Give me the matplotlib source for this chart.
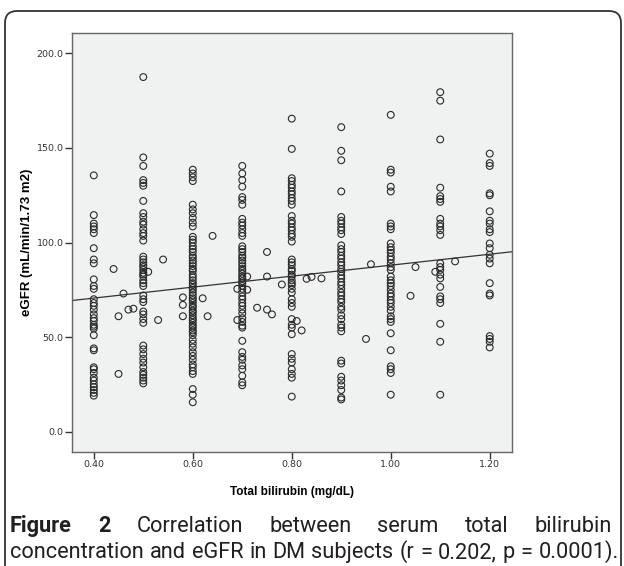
import numpy as np
import matplotlib.pyplot as plt
from matplotlib.patches import FancyBboxPatch

# eGFR values, one list per bilirubin column (mg/dL)
bili_levels = [0.40, 0.50, 0.60, 0.70, 0.80, 0.90, 1.00, 1.10, 1.20]
egfr_040 = [135.5, 114.5, 110, 108.5, 107, 105, 97, 91, 89, 80.5, 77, 75.5, 70, 68, 66.5, 64.5,
            62, 60, 58.5, 56.5, 55.5, 54.5, 51, 44, 43, 34, 33, 31, 28.5, 27, 25, 23.5, 22, 20.5, 19]
egfr_050 = [187.5, 145, 140.5, 133, 131.5, 130, 122, 115.5, 113.5, 111, 109.5, 107, 105, 103.5, 101,
            92.5, 91, 89.5, 88, 87, 85.5, 84, 83, 82, 80, 78.5, 77, 72, 70, 68.5, 63.5, 62, 59.5, 57.5,
            45.5, 43.5, 41, 38.5, 36.5, 34, 31.5, 30, 28.5, 27, 25.5]
egfr_060 = [138.5, 136.5, 134.5, 132.5, 120, 117.5, 115.5, 113, 110.5, 108.5, 103, 101.5, 100, 98,
            96.5, 95, 93, 92, 90.5, 89, 87.5, 86, 85, 83, 81.5, 80, 78.5, 77.5, 76, 75, 73.5, 72, 70.5,
            69.5, 68, 66.5, 65.5, 64, 63, 61.5, 60, 59, 57.5, 56, 55, 53.5, 52.5, 51, 48.5, 46.5, 44.5,
            42, 40, 38, 35.5, 34, 32, 30.5, 22.5, 19.5, 15.5]
egfr_070 = [140.5, 136.5, 133, 129.5, 124, 122.5, 120, 112.5, 110.5, 109, 107, 105, 103.5, 98, 96.5,
            95, 93, 92, 90.5, 89, 87.5, 86, 85, 83.5, 82, 81, 79.5, 78.5, 77, 75.5, 73.5, 71.5, 70, 68,
            66.5, 64.5, 62.5, 60, 58, 56, 55, 48, 42, 39.5, 38, 35, 33, 29.5, 26, 24.5]
egfr_080 = [165.5, 149.5, 134, 132.5, 130.5, 129, 127, 125.5, 123.5, 122, 120, 114, 111.5, 110, 108,
            106.5, 104.5, 103, 100.5, 91, 89.5, 88, 86, 85, 83, 82, 80, 78.5, 77.5, 75.5, 73.5, 70, 68,
            66, 59.5, 56.5, 55, 51.5, 41, 38.5, 36.5, 33, 30.5, 28.5, 18.5]
egfr_090 = [161, 148.5, 143.5, 127, 113.5, 111.5, 110, 108, 106.5, 104.5, 98.5, 96.5, 95, 93, 91.5,
            89.5, 88, 86, 84.5, 82.5, 81, 79, 77.5, 75.5, 73.5, 72, 70, 68.5, 66, 64.5, 61.5, 59.5,
            56.5, 55, 53, 37.5, 36, 29, 27, 24.5, 22, 18, 17]
egfr_100 = [167.5, 138.5, 137, 129.5, 127, 110, 108.5, 107, 99.5, 97.5, 96, 94.5, 92.5, 91, 89, 87,
            85.5, 82, 80, 78.5, 77, 75, 73, 71.5, 69.5, 68, 66, 64, 61, 59.5, 58, 52, 43, 34.5, 33, 31,
            19.5]
egfr_110 = [179.5, 175, 154.5, 129, 124.5, 123, 121.5, 112.5, 110, 108.5, 106.5, 104, 89, 87, 85.5,
            83, 81, 76.5, 71.5, 70, 68, 57, 47.5, 19.5]
egfr_120 = [147, 142, 140.5, 126, 125, 116.5, 111.5, 110, 107, 105.5, 99.5, 97, 93.5, 91.5, 89, 78.5,
            73, 72, 50.5, 49, 47.5, 44.5]
columns = [egfr_040, egfr_050, egfr_060, egfr_070, egfr_080, egfr_090, egfr_100, egfr_110, egfr_120]

# subjects with bilirubin values between the columns
odd_bili = [0.44, 0.45, 0.45, 0.46, 0.47, 0.48, 0.51, 0.53, 0.54, 0.58, 0.58, 0.58, 0.62, 0.63, 0.64,
            0.69, 0.69, 0.71, 0.71, 0.73, 0.75, 0.75, 0.75, 0.76, 0.78, 0.81, 0.82, 0.83, 0.84, 0.86,
            0.95, 0.96, 1.04, 1.05, 1.09, 1.13]
odd_egfr = [86, 61, 30.5, 73, 64.5, 65, 84.5, 59, 91, 71, 67, 61, 70.5, 61, 103.5,
            75.5, 59, 82, 75, 65.5, 95, 82, 64.5, 62, 77.8, 58.5, 53.5, 80.8, 81.8, 81,
            49, 88.5, 71.8, 87, 84.5, 90]

# fit line
fit_intercept = 59.0
fit_slope = 29.0

caption1 = ['Figure', '2', 'Correlation', 'between', 'serum', 'total', 'bilirubin']
caption2 = 'concentration and eGFR in DM subjects (r = 0.202, p = 0.0001).'

x = np.concatenate([[lv] * len(c) for lv, c in zip(bili_levels, columns)] + [odd_bili])
y = np.concatenate(columns + [odd_egfr])

fig = plt.figure(figsize=(6.24, 5.66), dpi=100)
ax = fig.add_axes([0.1154, 0.2014, 0.7051, 0.7403])
ax.set_facecolor('#f0f1f1')

ax.scatter(x, y, s=24, facecolors='none', edgecolors='#2a2a2a', linewidths=0.8, zorder=3)

ax.set_xlim(0.356, 1.245)
ax.set_ylim(-10.8, 210.8)
xs = np.array(ax.get_xlim())
ax.plot(xs, fit_intercept + fit_slope * xs, color='#333333', lw=0.9, zorder=2)

ax.set_xticks([0.4, 0.6, 0.8, 1.0, 1.2])
ax.set_xticklabels(['%.2f' % v for v in [0.4, 0.6, 0.8, 1.0, 1.2]])
ax.set_yticks([0, 50, 100, 150, 200])
ax.set_yticklabels(['%.1f' % v for v in [0, 50, 100, 150, 200]])
ax.tick_params(direction='out', length=5, width=1, color='#333333', labelsize=6.8,
               labelcolor='#333333', pad=1)
for s in ax.spines.values():
    s.set_color('#666666')
    s.set_linewidth(1.0)

ax.set_xlabel('Total bilirubin (mg/dL)', fontsize=8.5, fontweight='bold',
              family='Liberation Sans', labelpad=12)
ax.set_ylabel('eGFR (mL/min/1.73 m2)', fontsize=9.5, fontweight='bold',
              family='Liberation Sans', labelpad=3)

# rounded frame around figure + caption
frame = FancyBboxPatch((0.05, -0.5), 6.16, 6.05, boxstyle='round,pad=0,rounding_size=0.12',
                       transform=fig.dpi_scale_trans, fill=False, edgecolor='#333333', lw=1.3)
fig.patches.append(frame)

cap_font = 'Roboto'
renderer = fig.canvas.get_renderer()

# pick the caption size so the second line fills the box width
probe = fig.text(0, 0, caption2, fontsize=10, family=cap_font)
w10 = probe.get_window_extent(renderer).width
probe.remove()
cap_size = 10 * 604 / w10


def justify(words, ypix, x0, x1):
    W, H = fig.bbox.width, fig.bbox.height
    texts = [fig.text(0, 1 - ypix / H, w, fontsize=cap_size, fontweight=wt, family=cap_font,
                      va='baseline', ha='left', color='#231f20') for w, wt in words]
    widths = [t.get_window_extent(renderer).width for t in texts]
    gap = (x1 - x0 - sum(widths)) / (len(texts) - 1)
    pos = x0
    for t, w in zip(texts, widths):
        t.set_x(pos / W)
        pos += w + gap


line1 = [(w, 'bold' if i < 2 else 'normal') for i, w in enumerate(caption1)]
line2 = [(w, 'normal') for w in caption2.split(' ')]
justify(line1, 532, 10, 612)
justify(line2, 558, 10, 619)

fig.savefig('out.png', dpi=100)
